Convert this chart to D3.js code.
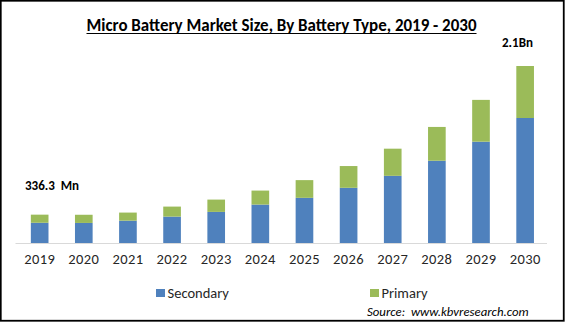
<!DOCTYPE html>
<html>
<head>
<meta charset="utf-8">
<script src="https://cdn.jsdelivr.net/npm/d3@7"></script>
<style>
  body { margin: 0; background: #fff; }
  svg { display: block; font-family: Carlito, Calibri, Lato, sans-serif; }
  svg text { white-space: pre; }
</style>
</head>
<body>
<svg id="chart" width="565" height="322"></svg>
<script>
var years = ["2019", "2020", "2021", "2022", "2023", "2024", "2025", "2026", "2027", "2028", "2029", "2030"];
// values in USD Mn
var secondary = [240, 238, 265, 313, 369, 456, 536, 655, 797, 976, 1202, 1483];
var primary = [96.3, 97, 96, 119, 146, 166, 210, 258, 322, 401, 496, 617];
var seriesNames = ["Secondary", "Primary"];
var colors = ["#4f81bd", "#9bbb59"];

var svg = d3.select("#chart");

// outer frame
svg.append("rect")
  .attr("x", 0.75).attr("y", 0.75)
  .attr("width", 563).attr("height", 320)
  .attr("fill", "none")
  .attr("stroke", "#000")
  .attr("stroke-width", 1.8);

// title
svg.append("text")
  .attr("x", 281.5).attr("y", 30.5)
  .attr("text-anchor", "middle")
  .attr("font-size", 17)
  .attr("font-weight", "bold")
  .attr("fill", "#000")
  .attr("textLength", 390)
  .attr("lengthAdjust", "spacingAndGlyphs")
  .text("Micro Battery Market Size, By Battery Type, 2019 - 2030");
svg.append("line")
  .attr("x1", 86.5).attr("x2", 476.5)
  .attr("y1", 33.5).attr("y2", 33.5)
  .attr("stroke", "#000").attr("stroke-width", 1.2);

var x = d3.scaleBand()
  .domain(years)
  .range([17.6, 547.2])
  .paddingInner(0.6)
  .paddingOuter(0.3);

var y = d3.scaleLinear()
  .domain([0, 2100])
  .range([243, 66]);

var rows = years.map(function(d, i) {
  return { year: d, Secondary: secondary[i], Primary: primary[i] };
});
var stacked = d3.stack().keys(seriesNames)(rows);

svg.append("g")
  .selectAll("g")
  .data(stacked)
  .enter().append("g")
  .attr("fill", function(d, i) { return colors[i]; })
  .selectAll("rect")
  .data(function(d) { return d; })
  .enter().append("rect")
  .attr("x", function(d) { return x(d.data.year); })
  .attr("width", x.bandwidth())
  .attr("y", function(d) { return y(d[1]); })
  .attr("height", function(d) { return y(d[0]) - y(d[1]); });

// baseline + year labels
var xAxis = svg.append("g")
  .attr("transform", "translate(0,243)")
  .call(d3.axisBottom(x).tickSize(0).tickPadding(11));
xAxis.select(".domain")
  .attr("d", "M15.5,0.5H547")
  .attr("stroke", "#d9d9d9")
  .attr("stroke-width", 1.2);
xAxis.selectAll("text")
  .attr("font-family", "Carlito, Calibri, Lato, sans-serif")
  .attr("font-size", 14.5)
  .attr("letter-spacing", 0.4)
  .attr("fill", "#262626");

// value callouts for first and last year
svg.append("text")
  .attr("x", 25).attr("y", 190)
  .attr("font-size", 13)
  .attr("font-weight", "bold")
  .attr("fill", "#000")
  .text("336.3  Mn");
svg.append("text")
  .attr("x", 502).attr("y", 47)
  .attr("font-size", 13)
  .attr("font-weight", "bold")
  .attr("fill", "#000")
  .text("2.1Bn");

// legend
var legendX = [156, 370];
var legend = svg.append("g")
  .selectAll("g")
  .data(seriesNames)
  .enter().append("g")
  .attr("transform", function(d, i) { return "translate(" + legendX[i] + ",289)"; });
legend.append("rect")
  .attr("width", 9).attr("height", 8)
  .attr("fill", function(d, i) { return colors[i]; });
legend.append("text")
  .attr("x", 11.5).attr("y", 8.5)
  .attr("font-size", 14.5)
  .attr("fill", "#262626")
  .text(function(d) { return d; });

svg.append("text")
  .attr("x", 367).attr("y", 316)
  .attr("font-size", 12.8)
  .attr("font-style", "italic")
  .attr("fill", "#000")
  .text("Source:  www.kbvresearch.com");
</script>
</body>
</html>
